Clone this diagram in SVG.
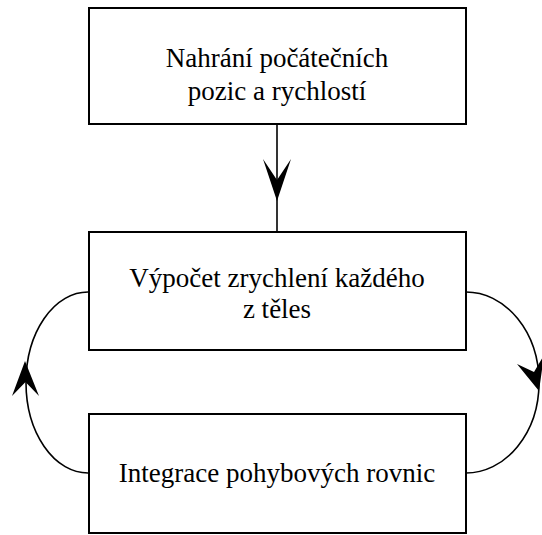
<svg xmlns="http://www.w3.org/2000/svg" width="542" height="535" viewBox="0 0 542 535">
<style>
.box{fill:#fff;stroke:#000;stroke-width:2}
.lbl{font-family:"Liberation Serif","Times New Roman",serif;font-size:27px;fill:#000;text-anchor:middle}
.ln{fill:none;stroke:#000;stroke-width:1.6}
.ah{fill:#000;stroke:none}
</style>
<rect width="542" height="535" fill="#fff"/>
<g id="connectors">
<line class="ln" x1="277" y1="124" x2="277" y2="232"/>
<path class="ah" d="M263,159 L277,180 L291,159 L277,201 Z"/>
<path class="ln" d="M88,292 A62,90.5 0 0 0 88,473"/>
<path class="ah" d="M25,361 L39,396 L25.5,382 L12,396 Z"/>
<path class="ln" d="M466,292 A73,90.5 0 0 1 466,473"/>
<path class="ah" d="M539,391 L544,355 L534,372 L517,364 Z"/>
</g>
<g id="node1">
<rect class="box" x="89" y="8" width="377" height="116"/>
<text class="lbl" x="277" y="67">Nahrání počátečních</text>
<text class="lbl" x="277" y="100">pozic a rychlostí</text>
</g>
<g id="node2">
<rect class="box" x="89" y="232" width="377" height="118"/>
<text class="lbl" x="277" y="287">Výpočet zrychlení každého</text>
<text class="lbl" x="277" y="318">z těles</text>
</g>
<g id="node3">
<rect class="box" x="89" y="414" width="377" height="119"/>
<text class="lbl" x="277" y="482">Integrace pohybových rovnic</text>
</g>
</svg>
